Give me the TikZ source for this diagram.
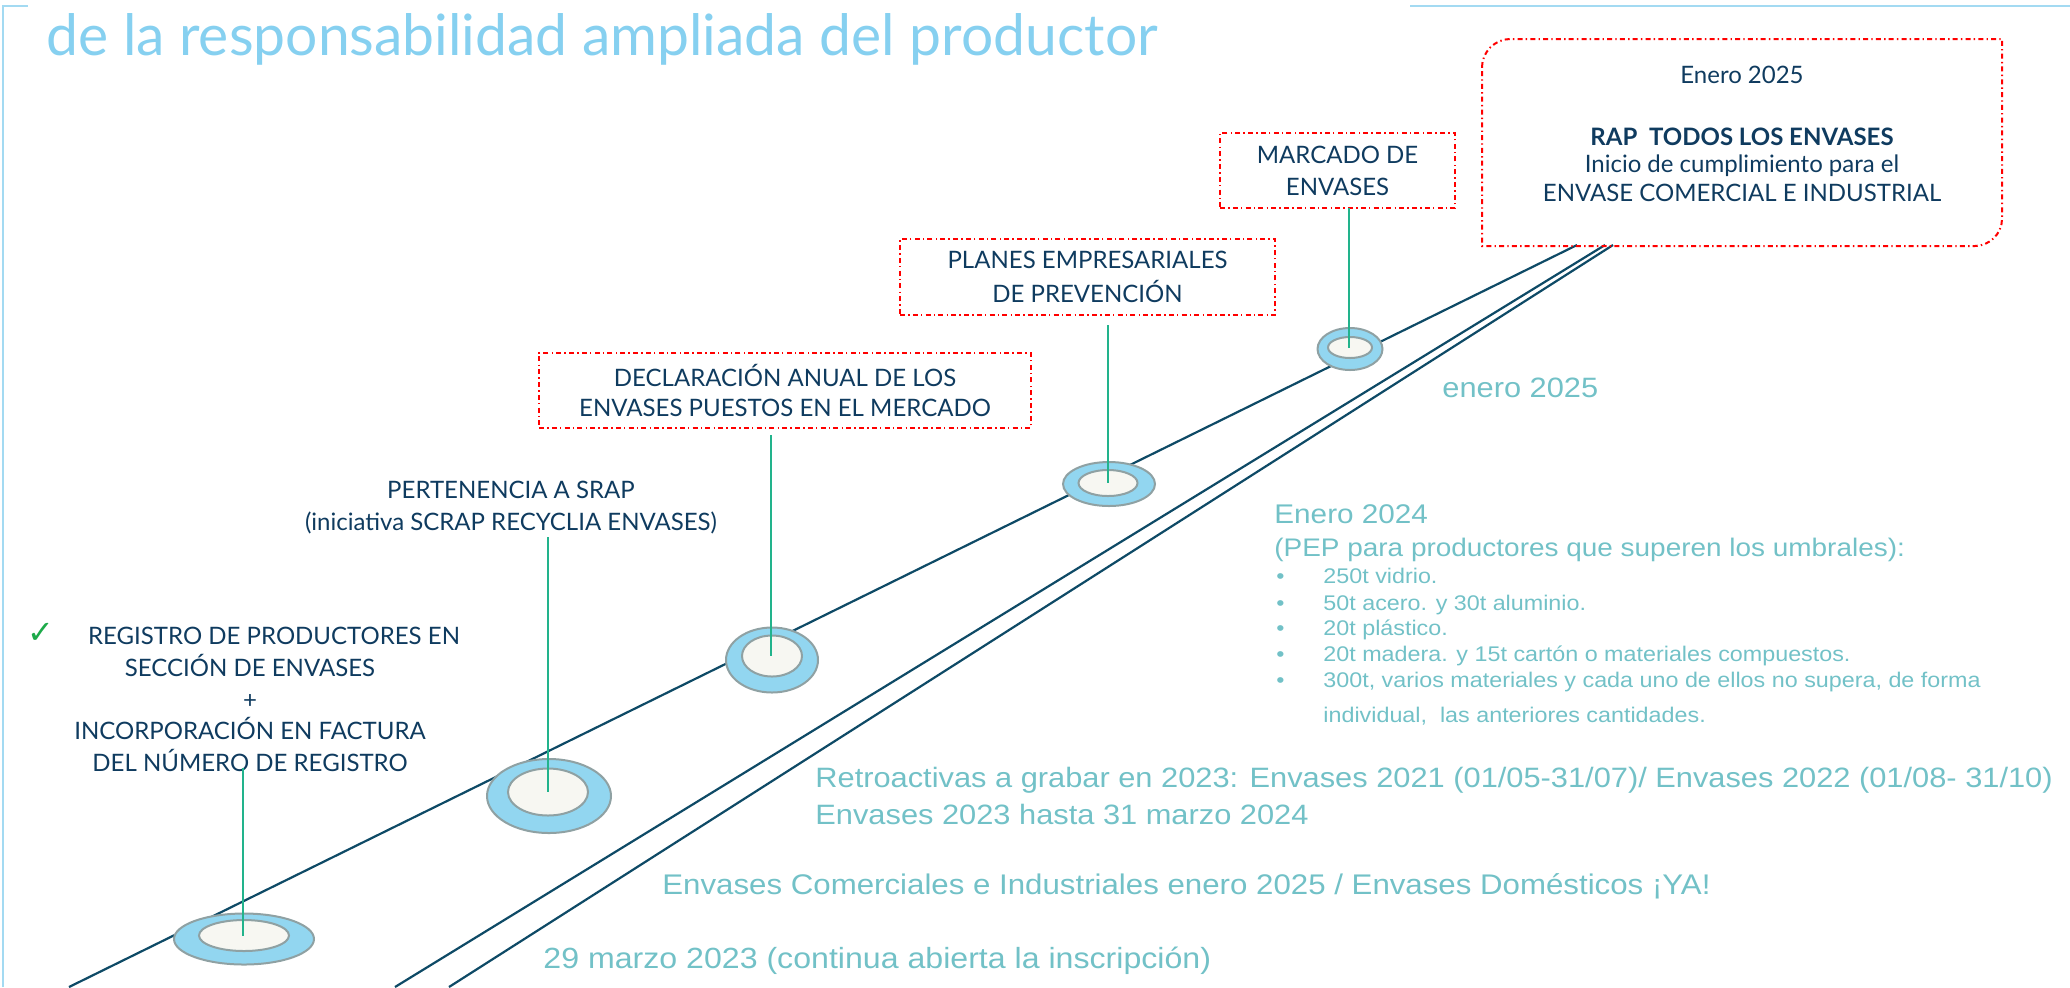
\documentclass[tikz,border=0pt]{standalone}
\usepackage{fontspec}
\setmainfont{Lato}
\newfontfamily\tealfont[FakeStretch=1.1]{Liberation Sans}
\newfontfamily\symfont{DejaVu Sans}
\usetikzlibrary{shapes.geometric}
\definecolor{navy}{HTML}{0F3B5F}
\definecolor{trackc}{HTML}{0E4A66}
\definecolor{stemc}{HTML}{22B38C}
\definecolor{redc}{HTML}{FF0000}
\definecolor{tealc}{HTML}{72C1C7}
\definecolor{titleblue}{HTML}{86D0F0}
\definecolor{framec}{HTML}{A3DAF2}
\definecolor{ringblue}{HTML}{92D6F0}
\definecolor{ringgrey}{HTML}{8FA1A3}
\definecolor{ringwhite}{HTML}{F7F7F2}
\definecolor{checkc}{HTML}{1DAA4A}
\begin{document}
\begin{tikzpicture}[x=0.5pt,y=-0.5pt,
  redbox/.style={draw=redc, line width=1pt, dash pattern=on 2.5pt off 1.6pt on 0.7pt off 1.6pt,
    inner sep=0pt, align=center, text=navy},
  lbl/.style={text=navy, align=center, inner sep=0pt},
  tealtxt/.style={text=tealc, inner sep=0pt, anchor=base west},
  ringout/.style={ellipse, draw=ringgrey, fill=ringblue, line width=1pt, inner sep=0pt},
  ringin/.style={ellipse, draw=ringgrey, fill=ringwhite, line width=1pt, inner sep=0pt},
  track/.style={draw=trackc, line width=1.1pt},
  stem/.style={draw=stemc, line width=1pt},
  frame/.style={draw=framec, line width=1pt}]
\useasboundingbox (0,0) rectangle (2070,987);
\clip (0,0) rectangle (2070,987);

% frame
\coordinate (f0) at (3,987);
\coordinate (f1) at (3,6);
\coordinate (f2) at (28,6);
\coordinate (f3) at (1410,6);
\coordinate (f4) at (2070,6);
\draw[frame] (f0) -- (f1) -- (f2);
\draw[frame] (f3) -- (f4);

% title
\node[anchor=base west, inner sep=0pt, text=titleblue, font=\fontsize{28.5pt}{30pt}\selectfont] (title) at (46,55) {de la responsabilidad ampliada del productor};

% tracks
\coordinate (A0) at (69,987);
\coordinate (A1) at (1577,245);
\coordinate (B0) at (395,987);
\coordinate (B1) at (1605,245);
\coordinate (C0) at (449,987);
\coordinate (C1) at (1613,245);
\draw[track] (A0) -- (A1);
\draw[track] (B0) -- (B1);
\draw[track] (C0) -- (C1);

% rings
\node[ringout, minimum width=70pt, minimum height=25.5pt] (o1) at (244,939) {};
\node[ringin, minimum width=45pt, minimum height=15.5pt] (i1) at (244,935.5) {};
\node[ringout, minimum width=62pt, minimum height=37pt] (o2) at (549,796) {};
\node[ringin, minimum width=40pt, minimum height=23.5pt] (i2) at (548,792) {};
\node[ringout, minimum width=46pt, minimum height=32.5pt] (o3) at (772,660) {};
\node[ringin, minimum width=30pt, minimum height=20.5pt] (i3) at (772,656) {};
\node[ringout, minimum width=46pt, minimum height=22pt] (o4) at (1109,484) {};
\node[ringin, minimum width=29.5pt, minimum height=13pt] (i4) at (1108,483) {};
\node[ringout, minimum width=32.5pt, minimum height=21pt] (o5) at (1350,349) {};
\node[ringin, minimum width=22pt, minimum height=10.5pt] (i5) at (1350,347.5) {};

% boxes
\node[redbox, minimum width=117.5pt, minimum height=37.5pt, font=\fontsize{12pt}{16pt}\selectfont] (marc) at (1337.5,170.5) {MARCADO DE\\ENVASES};
\node[redbox, minimum width=187.5pt, minimum height=38pt, font=\fontsize{12pt}{17pt}\selectfont] (plan) at (1087.5,277) {PLANES EMPRESARIALES\\DE PREVENCIÓN};
\node[redbox, minimum width=246pt, minimum height=37.5pt, font=\fontsize{12pt}{15pt}\selectfont] (decl) at (785,390.5) {DECLARACIÓN ANUAL DE LOS\\ENVASES PUESTOS EN EL MERCADO};

% rounded box Enero 2025
\coordinate (rtl) at (1482,39);
\coordinate (rbr) at (2002,246);
\draw[redc, line width=1pt, dash pattern=on 2.5pt off 1.6pt on 0.7pt off 1.6pt]
  (1482,67) .. controls (1482,52) and (1495,39) .. (1510,39) -- (2002,39) -- (2002,219)
  .. controls (2002,234) and (1989,246) .. (1975,246) -- (1482,246) -- cycle;
\node[lbl, font=\fontsize{12pt}{14pt}\selectfont] (r1) at (1742,75) {Enero 2025};
\node[lbl, font=\fontsize{12pt}{14pt}\bfseries\selectfont] (r2) at (1742,137) {RAP\ \ TODOS LOS ENVASES};
\node[lbl, font=\fontsize{12pt}{14pt}\selectfont] (r3) at (1742,166) {Inicio de cumplimiento para el};
\node[lbl, font=\fontsize{12pt}{14pt}\selectfont] (r4) at (1742,193) {ENVASE COMERCIAL E INDUSTRIAL};

% free labels
\node[lbl, font=\fontsize{12pt}{16pt}\selectfont] (pert) at (511,508) {PERTENENCIA A SRAP\\(iniciativa SCRAP RECYCLIA ENVASES)};
\node[lbl, font=\fontsize{12pt}{15.85pt}\selectfont] (reg) at (250,699.5) {\hspace*{24pt}REGISTRO DE PRODUCTORES EN\\SECCIÓN DE ENVASES\\+\\INCORPORACIÓN EN FACTURA\\DEL NÚMERO DE REGISTRO};
\node[inner sep=0pt, text=checkc, font=\symfont\fontsize{16pt}{17pt}\selectfont] (chk) at (41,633) {✓};

% stems
\coordinate (s1) at (243,768);
\coordinate (s2) at (548,537);
\coordinate (s3) at (771,435);
\coordinate (s4) at (1108,325);
\coordinate (s5) at (1349,208);
\draw[stem] (s1) -- (s1 |- i1.center);
\draw[stem] (s2) -- (s2 |- i2.center);
\draw[stem] (s3) -- (s3 |- i3.center);
\draw[stem] (s4) -- (s4 |- i4.center);
\draw[stem] (s5) -- (s5 |- i5.center);

% teal texts
\node[tealtxt, font=\tealfont\fontsize{14pt}{16pt}\selectfont] (t25) at (1442,397) {enero 2025};
\node[tealtxt, font=\tealfont\fontsize{13.5pt}{16pt}\selectfont] (t24) at (1274,523) {Enero 2024};
\node[tealtxt, font=\tealfont\fontsize{12.7pt}{14pt}\selectfont] (pep) at (1274,556) {(PEP para productores que superen los umbrales):};
\foreach \yy/\tt [count=\i] in {583.5/250t vidrio., 610.5/50t acero. y 30t aluminio., 635.5/20t plástico., 661.5/20t madera. y 15t cartón o materiales compuestos., 687.5/{300t, varios materiales y cada uno de ellos no supera, de forma}}{
  \node[tealtxt, font=\tealfont\fontsize{10.6pt}{11pt}\selectfont] (bu\i) at (1276,\yy) {•};
  \node[tealtxt, font=\tealfont\fontsize{10.6pt}{11pt}\selectfont] (it\i) at (1323,\yy) {\tt};
}
\node[tealtxt, font=\tealfont\fontsize{10.6pt}{11pt}\selectfont] (it6) at (1323,722.5) {individual,\ \ las anteriores cantidades.};
\node[tealtxt, font=\tealfont\fontsize{14pt}{16pt}\selectfont] (retro) at (815,787) {Retroactivas a grabar en 2023: Envases 2021 (01/05-31/07)/ Envases 2022 (01/08- 31/10)};
\node[tealtxt, font=\tealfont\fontsize{14pt}{16pt}\selectfont] (env23) at (815,824) {Envases 2023 hasta 31 marzo 2024};
\node[tealtxt, font=\tealfont\fontsize{14.2pt}{16pt}\selectfont] (envci) at (662,894.5) {Envases Comerciales e Industriales enero 2025 / Envases Domésticos ¡YA!};
\node[tealtxt, font=\tealfont\fontsize{14.6pt}{16pt}\selectfont] (mar23) at (543,968) {29 marzo 2023 (continua abierta la inscripción)};
\end{tikzpicture}
\end{document}
